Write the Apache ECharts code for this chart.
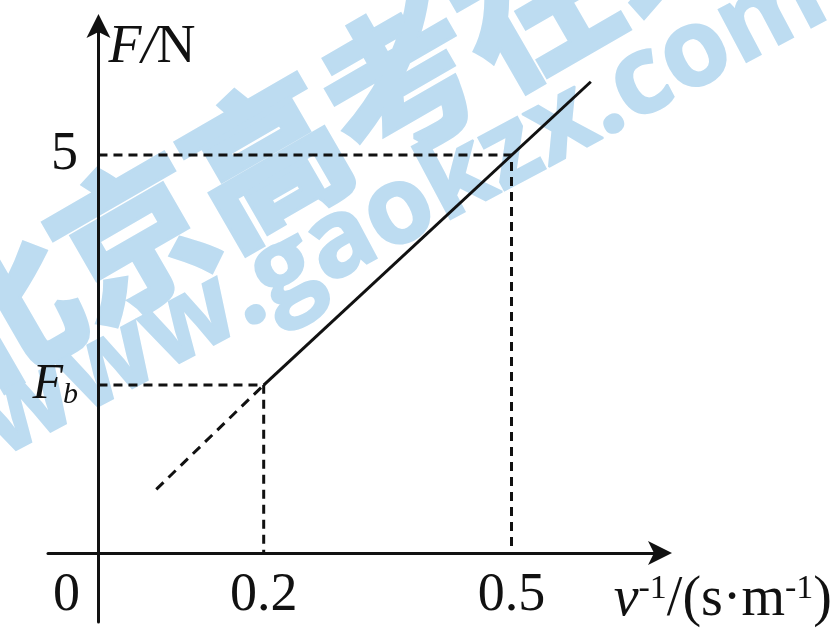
<!DOCTYPE html>
<html>
<head>
<meta charset="utf-8">
<script src="https://cdn.jsdelivr.net/npm/echarts@6/dist/echarts.min.js"></script>
<style>
  html, body { margin: 0; padding: 0; background: #fff; }
  #chart { width: 835px; height: 632px; }
</style>
</head>
<body>
<div id="chart"></div>
<script>
// 数据（示意图：F - v^-1）
const xTicks = [0, 0.2, 0.5];
const Fb = 2.11;
const yTicks = [Fb, 5];
const solidLine = [[0.2, Fb], [0.596, 5.92]];
const dashedLine = [[0.07, 0.8], [0.2, Fb]];
const guideFb = [[0, Fb], [0.2, Fb], [0.2, 0]];
const guide5 = [[0, 5], [0.5, 5], [0.5, 0]];

const serif = '"Liberation Serif", "Times New Roman", serif';
const ink = '#111';
const wmBlue = '#bddcf1';

const chart = echarts.init(document.getElementById('chart'));

const guideStyle = { color: ink, width: 3, type: [9, 6] };

chart.setOption({
  backgroundColor: '#fff',
  animation: false,
  grid: { left: 48, right: 169, top: 20, bottom: 10, outerBoundsMode: 'none' },
  // 水印
  graphic: [
    {
      type: 'text', x: 333, y: 120, rotation: 30 * Math.PI / 180, z: -1,
      style: {
        text: '北京高考在线', fill: wmBlue, stroke: wmBlue, lineWidth: 6,
        font: 'bold 155px "Noto Sans CJK SC"',
        align: 'center', verticalAlign: 'middle'
      }
    },
    {
      type: 'text', x: 402, y: 210, rotation: 28 * Math.PI / 180, z: -1,
      style: {
        text: 'www.gaokzx.com', fill: wmBlue, stroke: wmBlue, lineWidth: 2,
        font: 'bold 108px "Open Sans"',
        align: 'center', verticalAlign: 'middle'
      }
    }
  ],
  xAxis: {
    type: 'value',
    min: -0.0611,
    max: 0.687,
    name: '{i|v}{sup|-1}/(s·m{sup|-1})',
    nameLocation: 'end',
    nameGap: 166,
    nameTextStyle: {
      align: 'right', verticalAlign: 'top', padding: [19, 0, 0, 0],
      fontFamily: serif, fontSize: 56, color: ink,
      rich: {
        i: { fontFamily: serif, fontSize: 56, fontStyle: 'italic', color: ink },
        sup: { fontFamily: serif, fontSize: 34, color: ink, verticalAlign: 'top' }
      }
    },
    axisLine: {
      onZero: true,
      symbol: ['none', 'arrow'], symbolSize: [18, 24], symbolOffset: [0, 6],
      lineStyle: { color: ink, width: 3 }
    },
    axisTick: { show: false },
    splitLine: { show: false },
    axisLabel: {
      customValues: xTicks,
      margin: -53,
      color: ink, fontFamily: serif, fontSize: 54,
      formatter: (v) => (v === 0 ? '{o|0}' : '{n|' + v + '}'),
      rich: {
        o: { fontFamily: serif, fontSize: 54, color: ink, padding: [0, 64, 0, 0] },
        n: { fontFamily: serif, fontSize: 54, color: ink }
      }
    }
  },
  yAxis: {
    type: 'value',
    min: -0.867,
    max: 6.696,
    name: '{i|F/}N',
    nameLocation: 'end',
    nameGap: -28,
    nameTextStyle: {
      align: 'left', verticalAlign: 'middle', padding: [0, 0, 0, 10],
      fontFamily: serif, fontSize: 54, color: ink,
      rich: {
        i: { fontFamily: serif, fontSize: 54, fontStyle: 'italic', color: ink }
      }
    },
    axisLine: {
      onZero: true,
      symbol: ['none', 'arrow'], symbolSize: [18, 24], symbolOffset: [0, 6],
      lineStyle: { color: ink, width: 3 }
    },
    axisTick: { show: false },
    splitLine: { show: false },
    axisLabel: {
      customValues: yTicks,
      margin: -30,
      color: ink, fontFamily: serif, fontSize: 54,
      formatter: (v) => (v === 5 ? '5' : '{i|F}{s|b}'),
      rich: {
        i: { fontFamily: serif, fontSize: 50, fontStyle: 'italic', color: ink },
        s: { fontFamily: serif, fontSize: 30, fontStyle: 'italic', color: ink, verticalAlign: 'bottom' }
      }
    }
  },
  series: [
    { type: 'line', data: guideFb, symbol: 'none', lineStyle: guideStyle, z: 3 },
    { type: 'line', data: guide5, symbol: 'none', lineStyle: guideStyle, z: 3 },
    { type: 'line', data: dashedLine, symbol: 'none', lineStyle: { color: ink, width: 3, type: [10, 7] }, z: 4 },
    { type: 'line', data: solidLine, symbol: 'none', lineStyle: { color: ink, width: 3 }, z: 4 }
  ]
});
</script>
</body>
</html>
